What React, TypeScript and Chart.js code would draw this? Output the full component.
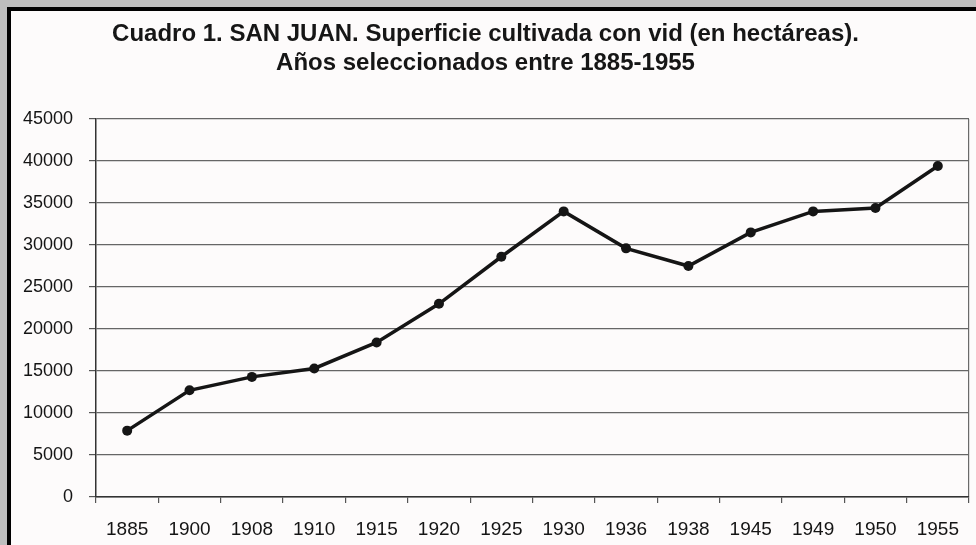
import React, { useEffect, useRef } from "react";
import { Chart, registerables } from "chart.js";

Chart.register(...registerables);

const titleLines = [
  "Cuadro 1. SAN JUAN. Superficie cultivada con vid (en hectáreas).",
  "Años seleccionados entre 1885-1955",
];
const years = ["1885", "1900", "1908", "1910", "1915", "1920", "1925", "1930", "1936", "1938", "1945", "1949", "1950", "1955"];
const hectares = [7900, 12700, 14300, 15300, 18400, 23000, 28600, 34000, 29600, 27500, 31500, 34000, 34400, 39400];
const yMin = 0;
const yMax = 45000;
const yStep = 5000;

const FONT = "'Liberation Sans', Arial, sans-serif";

const titlePlugin = {
  id: "scanTitle",
  afterDraw(chart: any) {
    const ctx = chart.ctx;
    ctx.save();
    ctx.fillStyle = "#161616";
    ctx.font = `bold 24px ${FONT}`;
    ctx.textAlign = "center";
    ctx.textBaseline = "alphabetic";
    const cx = chart.width / 2 - 8;
    ctx.fillText(titleLines[0], cx, 30);
    ctx.fillText(titleLines[1], cx, 59);
    ctx.restore();
  },
};

export default function App() {
  const ref = useRef<HTMLCanvasElement | null>(null);

  useEffect(() => {
    document.body.style.margin = "0";
    const canvas = ref.current;
    if (!canvas) return;
    const chart = new Chart(canvas, {
      type: "line",
      data: {
        labels: years,
        datasets: [
          {
            data: hectares,
            borderColor: "#151515",
            backgroundColor: "#151515",
            borderWidth: 3.5,
            pointRadius: 5,
            pointBackgroundColor: "#151515",
            pointBorderColor: "#151515",
            pointBorderWidth: 0,
            tension: 0,
          },
        ],
      },
      options: {
        responsive: false,
        animation: false,
        devicePixelRatio: 1,
        layout: { padding: { left: 0, right: 7, top: 108, bottom: 0 } },
        plugins: {
          legend: { display: false },
          title: { display: false },
          tooltip: { enabled: false },
        },
        scales: {
          x: {
            offset: true,
            grid: {
              offset: true,
              drawOnChartArea: true,
              color: (ctx: any) => (ctx.type === "scale" ? "#6a6a6a" : "rgba(0,0,0,0)"),
              tickColor: "#555555",
              tickLength: 6,
              lineWidth: 1.2,
            },
            border: { display: true, color: "#333333", width: 1.5 },
            ticks: {
              color: "#141414",
              font: { family: FONT, size: 19 },
              padding: 15,
              maxRotation: 0,
              autoSkip: false,
            },
            afterFit: (scale: any) => {
              scale.height = 48;
            },
          },
          y: {
            min: yMin,
            max: yMax,
            grid: {
              color: "#666666",
              tickColor: "#555555",
              tickLength: 7,
              lineWidth: 1.2,
            },
            border: { display: true, color: "#333333", width: 1.5 },
            ticks: {
              stepSize: yStep,
              color: "#141414",
              font: { family: FONT, size: 18 },
              padding: 16,
              callback: (value: any) => String(value),
            },
            afterFit: (scale: any) => {
              scale.width = 85;
            },
          },
        },
      },
      plugins: [titlePlugin],
    });
    return () => chart.destroy();
  }, []);

  return (
    <div style={{ position: "relative", width: 976, height: 545, background: "#bdbdbd", overflow: "hidden" }}>
      <div
        style={{
          position: "absolute",
          left: 7,
          top: 7,
          width: 969,
          height: 538,
          background: "#fdfbfb",
          borderLeft: "4px solid #000",
          borderTop: "4px solid #000",
          boxSizing: "border-box",
        }}
      />
      <canvas
        ref={ref}
        width={965}
        height={534}
        style={{ position: "absolute", left: 11, top: 11, width: 965, height: 534 }}
      />
    </div>
  );
}
